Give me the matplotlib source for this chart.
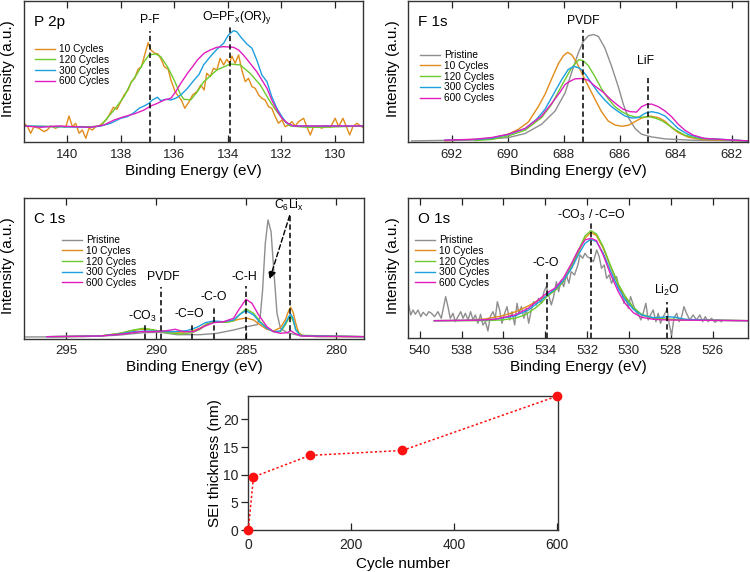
import matplotlib.pyplot as plt
import numpy as np

plt.rcParams['font.family'] = ['Liberation Sans', 'DejaVu Sans']
plt.rcParams['mathtext.fontset'] = 'custom'
plt.rcParams['mathtext.rm'] = 'Liberation Sans'
plt.rcParams['mathtext.it'] = 'Liberation Sans'

# colours of the series
c_pri = '#8E8E8E'
c_10 = '#E08C1A'
c_120 = '#6CCB2C'
c_300 = '#1E9FE0'
c_600 = '#E01EC0'

series_names = ['Pristine', '10 Cycles', '120 Cycles', '300 Cycles', '600 Cycles']

# ---------------- P 2p (binding energy eV, intensity a.u.) ----------------
p2p_10 = [(141.62, 19.2), (141.50, 16.5), (141.37, 9.2), (141.25, 15.8), (141.06, 14.2), (140.87, 10.8),
          (140.75, 12.5), (140.62, 16.5), (140.44, 14.2), (140.25, 16.5), (140.06, 15.2), (139.94, 26.5),
          (139.81, 15.8), (139.69, 19.2), (139.56, 9.2), (139.44, 12.5), (139.31, 4.2), (139.19, 14.2),
          (139.06, 12.5), (138.94, 15.8), (138.82, 16.5), (138.69, 19.2), (138.53, 23.2), (138.40, 29.2),
          (138.28, 35.2), (138.15, 33.2), (138.00, 40.8), (137.88, 47.5), (137.73, 52.5), (137.61, 60.8),
          (137.48, 64.2), (137.36, 73.2), (137.23, 75.8), (137.11, 87.5), (136.98, 99.8), (136.88, 92.5),
          (136.73, 89.2), (136.61, 88.5), (136.48, 82.5), (136.38, 75.8), (136.23, 73.2), (136.13, 62.5),
          (135.97, 50.8), (135.86, 46.5), (135.74, 42.5), (135.61, 34.2), (135.45, 40.8), (135.32, 47.5),
          (135.16, 50.8), (135.01, 57.5), (134.89, 52.5), (134.79, 69.2), (134.66, 65.8), (134.54, 74.2),
          (134.41, 72.5), (134.29, 84.2), (134.16, 77.5), (134.04, 83.2), (133.94, 79.2), (133.85, 86.5),
          (133.73, 79.2), (133.60, 87.5), (133.48, 72.5), (133.35, 60.8), (133.23, 64.2), (133.10, 55.8),
          (132.98, 54.2), (132.85, 47.5), (132.73, 44.2), (132.61, 42.5), (132.48, 35.8), (132.36, 34.2),
          (132.23, 25.8), (132.11, 19.2), (131.98, 22.5), (131.86, 15.8), (131.73, 17.5), (131.61, 20.8),
          (131.48, 16.5), (131.36, 20.8), (131.17, 24.2), (131.05, 15.8), (130.92, 7.5), (130.80, 15.8),
          (130.61, 15.8), (130.49, 14.2), (130.36, 16.5), (130.17, 15.2), (129.99, 24.2), (129.86, 15.8),
          (129.70, 24.2), (129.57, 15.8), (129.45, 7.5), (129.33, 15.8), (129.18, 19.2), (129.03, 16.5),
          (128.87, 13.2)]
p2p_120 = [(141.62, 16.5), (140.37, 15.8), (139.13, 15.8), (138.75, 16.5), (138.57, 22.5), (138.25, 32.5),
           (137.88, 45.8), (137.63, 59.2), (137.38, 69.2), (137.13, 80.8), (136.95, 87.5), (136.70, 88.5),
           (136.51, 85.8), (136.26, 75.8), (136.01, 62.5), (135.76, 47.5), (135.64, 43.2), (135.39, 42.5),
           (135.14, 50.8), (134.91, 60.5), (134.41, 72.5), (133.91, 78.5), (133.54, 77.5), (133.17, 69.2),
           (132.79, 57.5), (132.42, 40.8), (132.17, 30.8), (131.92, 22.5), (131.67, 16.5), (131.05, 15.2),
           (130.42, 15.2), (129.80, 15.8), (128.87, 16.5)]
p2p_300 = [(141.62, 16.5), (140.37, 15.8), (139.13, 15.2), (138.75, 16.5), (138.38, 19.2), (138.00, 24.2),
           (137.76, 25.8), (137.51, 29.8), (137.32, 34.2), (137.13, 36.5), (136.95, 39.2), (136.82, 42.5),
           (136.63, 45.2), (136.51, 41.8), (136.32, 43.2), (136.13, 42.5), (135.95, 44.2), (135.76, 47.5),
           (135.51, 54.2), (135.26, 62.5), (135.08, 68.0), (134.91, 77.5), (134.66, 85.8), (134.41, 93.2),
           (134.16, 99.2), (133.98, 107.5), (133.79, 111.8), (133.67, 110.8), (133.48, 104.2), (133.29, 98.5),
           (133.10, 94.2), (132.92, 82.5), (132.73, 67.5), (132.54, 60.8), (132.36, 45.8), (132.17, 34.2),
           (131.98, 25.8), (131.80, 19.2), (131.55, 16.5), (130.42, 16.5), (128.87, 16.5)]
p2p_600 = [(141.62, 16.5), (141.00, 15.2), (140.37, 16.5), (139.75, 15.8), (139.13, 15.2), (138.63, 17.5),
           (138.25, 22.5), (137.88, 25.8), (137.51, 28.5), (137.13, 32.5), (136.88, 36.5), (136.63, 39.2),
           (136.38, 42.5), (136.13, 44.2), (135.95, 50.8), (135.76, 59.2), (135.51, 69.2), (135.32, 75.8),
           (135.14, 82.5), (134.89, 89.2), (134.66, 92.5), (134.41, 95.2), (134.16, 95.8), (133.79, 95.2),
           (133.60, 92.5), (133.42, 87.5), (133.17, 79.2), (132.92, 70.8), (132.73, 62.5), (132.54, 54.2),
           (132.36, 42.5), (132.17, 32.5), (131.98, 24.2), (131.80, 19.8), (131.55, 16.5), (130.42, 16.5),
           (128.87, 16.5)]
p2p_mark_pos = [136.9, 133.92]
p2p_mark_top = [111.8, 117.5]
p2p_mark_text = ['P-F', r'O=PF$_\mathrm{x}$(OR)$_\mathrm{y}$']
p2p_text_x = [136.93, 133.65]
p2p_text_y = [122.5, 124.5]

# ---------------- F 1s ----------------
f1s_pri = [(693.43, 1.6), (691.17, 2.6), (689.98, 4.9), (689.38, 9.0), (688.79, 18.3), (688.31, 31.6),
           (687.95, 50.0), (687.72, 70.0), (687.48, 90.0), (687.30, 101.6), (687.12, 107.3), (686.94, 108.6),
           (686.76, 106.6), (686.53, 95.0), (686.29, 76.6), (686.05, 56.0), (685.87, 38.3), (685.69, 25.0),
           (685.45, 14.0), (685.22, 8.3), (684.86, 5.6), (684.38, 3.6), (683.43, 2.3), (681.43, 1.6)]
f1s_10 = [(692.24, 1.6), (691.17, 3.0), (690.57, 4.3), (689.98, 8.3), (689.62, 13.3), (689.26, 20.6),
          (688.91, 36.0), (688.67, 48.3), (688.43, 64.0), (688.19, 79.3), (688.01, 87.3), (687.86, 90.6),
          (687.72, 88.3), (687.54, 80.6), (687.36, 70.0), (687.12, 56.6), (686.88, 43.3), (686.65, 31.0),
          (686.41, 21.6), (686.17, 17.6), (685.93, 16.3), (685.69, 17.3), (685.45, 21.0), (685.22, 24.6),
          (684.92, 26.6), (684.62, 25.0), (684.38, 21.3), (684.15, 15.0), (683.91, 10.0), (683.55, 5.3),
          (683.07, 3.0), (681.43, 1.6)]
f1s_120 = [(691.17, 2.0), (690.57, 3.0), (689.98, 6.6), (689.38, 12.3), (688.79, 25.0), (688.43, 38.3),
           (688.07, 57.3), (687.72, 75.0), (687.46, 83.3), (687.30, 82.3), (687.12, 77.3), (686.88, 66.0),
           (686.65, 54.0), (686.41, 44.0), (686.17, 36.0), (685.93, 31.0), (685.69, 27.6), (685.45, 25.6),
           (685.22, 25.3), (684.98, 26.0), (684.74, 24.6), (684.50, 22.0), (684.26, 17.6), (684.03, 13.0),
           (683.67, 7.3), (683.19, 4.0), (681.43, 1.6)]
f1s_300 = [(692.24, 2.3), (691.17, 3.0), (690.57, 4.3), (689.98, 8.0), (689.38, 14.0), (688.97, 23.3),
           (688.67, 33.3), (688.37, 48.3), (688.07, 63.3), (687.84, 73.3), (687.63, 76.6), (687.42, 74.6),
           (687.24, 69.3), (687.00, 59.3), (686.76, 50.0), (686.53, 42.6), (686.29, 36.0), (686.05, 31.0),
           (685.81, 26.6), (685.57, 24.6), (685.34, 25.0), (685.10, 29.3), (684.86, 31.0), (684.62, 29.6),
           (684.38, 26.6), (684.15, 20.6), (683.91, 14.0), (683.55, 8.0), (683.07, 4.3), (681.43, 1.6)]
f1s_600 = [(692.24, 2.3), (691.17, 3.3), (690.57, 5.0), (689.98, 8.3), (689.38, 14.0), (688.79, 26.6),
           (688.43, 39.3), (688.13, 50.6), (687.95, 58.3), (687.84, 60.6), (687.60, 64.0), (687.36, 64.3),
           (687.12, 62.6), (686.88, 56.6), (686.59, 50.6), (686.35, 44.0), (686.11, 38.3), (685.87, 33.3),
           (685.63, 31.0), (685.40, 30.6), (685.22, 36.0), (685.04, 38.3), (684.86, 38.6), (684.62, 36.0),
           (684.38, 31.6), (684.15, 26.0), (683.91, 18.3), (683.67, 12.3), (683.37, 7.3), (682.96, 4.0),
           (681.43, 1.6)]
f1s_mark_pos = [687.31, 685.0]
f1s_mark_top = [113.3, 65.0]
f1s_mark_text = ['PVDF', 'LiF']
f1s_text_x = [687.3, 685.07]
f1s_text_y = [122.6, 81.6]

# ---------------- C 1s ----------------
c1s_pri = [(297.26, 1.7), (294.02, 2.0), (292.17, 3.4), (290.69, 6.0), (289.76, 6.4), (288.84, 4.0),
           (287.54, 4.0), (286.61, 5.4), (285.69, 8.7), (284.95, 12.0), (284.39, 14.0), (284.21, 22.0),
           (284.08, 48.7), (283.93, 95.4), (283.78, 118.7), (283.61, 107.0), (283.46, 68.7), (283.28, 25.4),
           (283.09, 10.4), (282.72, 6.0), (282.17, 3.7), (281.06, 2.0), (278.41, 2.0)]
c1s_10 = [(295.87, 2.0), (293.09, 2.7), (291.98, 5.4), (291.43, 7.7), (290.87, 9.4), (290.41, 9.4),
          (289.95, 8.0), (289.39, 7.0), (288.65, 6.4), (288.00, 7.4), (287.54, 10.7), (287.17, 14.7),
          (286.71, 16.7), (286.24, 16.4), (285.78, 17.4), (285.41, 19.4), (285.00, 20.7), (284.58, 18.7),
          (284.21, 13.7), (283.84, 9.4), (283.47, 7.7), (283.09, 11.0), (282.82, 18.7), (282.63, 28.0),
          (282.52, 31.4), (282.39, 26.7), (282.24, 15.4), (282.08, 6.0), (281.80, 2.4), (278.41, 2.0)]
c1s_120 = [(295.87, 2.0), (293.09, 2.7), (291.98, 5.4), (291.24, 8.7), (290.69, 10.4), (290.13, 8.7),
           (289.39, 6.0), (288.65, 4.7), (288.00, 6.0), (287.54, 9.4), (287.17, 14.7), (286.61, 17.0),
           (286.06, 16.4), (285.69, 18.0), (285.32, 24.7), (285.00, 29.7), (284.58, 25.4), (284.21, 17.0),
           (283.84, 11.0), (283.47, 7.0), (283.09, 7.0), (282.82, 13.7), (282.63, 20.4), (282.52, 22.7),
           (282.39, 18.0), (282.24, 9.4), (281.98, 3.4), (278.41, 2.0)]
c1s_300 = [(296.06, 2.0), (293.09, 2.7), (291.98, 4.7), (291.24, 7.0), (290.50, 7.7), (289.76, 7.4),
           (289.02, 7.0), (288.28, 8.0), (287.72, 11.4), (287.26, 16.0), (286.80, 17.7), (286.24, 17.0),
           (285.69, 18.7), (285.32, 24.7), (285.00, 28.0), (284.58, 23.7), (284.21, 16.0), (283.84, 10.4),
           (283.47, 7.0), (283.09, 7.7), (282.82, 15.4), (282.63, 22.0), (282.52, 24.7), (282.39, 20.4),
           (282.24, 8.7), (281.98, 3.0), (278.41, 2.0)]
c1s_600 = [(296.06, 2.0), (293.09, 2.7), (291.80, 4.7), (290.87, 7.0), (290.13, 7.0), (289.39, 8.0),
           (288.93, 9.4), (288.46, 7.0), (287.91, 7.0), (287.35, 12.0), (286.80, 16.0), (286.24, 17.0),
           (285.69, 20.4), (285.41, 28.7), (285.00, 39.4), (284.67, 35.4), (284.30, 23.7), (283.84, 12.0),
           (283.47, 7.0), (283.09, 5.4), (282.72, 6.0), (282.52, 8.0), (282.35, 6.0), (281.98, 2.7),
           (278.41, 2.0)]
c1s_mark_pos = [290.63, 289.72, 288.0, 286.8, 285.0, 282.54]
c1s_mark_top = [15.4, 52.0, 15.4, 32.0, 52.7, 124.0]
c1s_mark_text = [r'-CO$_\mathrm{3}$', 'PVDF', '-C=O', '-C-O', '-C-H', r'C$_\mathrm{6}$Li$_\mathrm{x}$']
c1s_text_x = [290.78, 289.58, 288.13, 286.8, 285.08, 282.63]
c1s_text_y = [22.7, 61.4, 24.7, 42.0, 61.4, 133.0]
c1s_arrow = [(282.58, 123.0), (283.69, 59.4)]

# ---------------- O 1s ----------------
o1s_pri = [(540.56, 36.6), (540.43, 23.3), (540.32, 28.3), (540.21, 24.0), (540.08, 28.3), (539.95, 21.6),
           (539.84, 26.0), (539.68, 22.6), (539.57, 26.6), (539.44, 25.0), (539.29, 21.6), (539.13, 26.6),
           (538.97, 20.0), (538.84, 33.3), (538.76, 41.6), (538.65, 31.6), (538.54, 20.0), (538.41, 25.0),
           (538.30, 16.6), (538.17, 21.6), (538.04, 26.6), (537.93, 20.0), (537.82, 25.0), (537.69, 18.3),
           (537.57, 26.6), (537.45, 18.3), (537.34, 23.3), (537.22, 15.0), (537.09, 24.0), (536.98, 13.3),
           (536.86, 16.6), (536.74, 7.3), (536.63, 21.6), (536.50, 26.6), (536.39, 20.0), (536.29, 36.6),
           (536.18, 28.3), (536.07, 15.0), (535.94, 25.0), (535.83, 31.6), (535.70, 18.3), (535.59, 26.6),
           (535.46, 13.3), (535.35, 35.0), (535.26, 25.0), (535.14, 31.6), (535.02, 20.0), (534.91, 30.0),
           (534.79, 15.0), (534.67, 28.3), (534.56, 36.6), (534.43, 33.3), (534.32, 40.0), (534.19, 35.0),
           (534.06, 46.6), (533.95, 51.6), (533.84, 43.3), (533.71, 33.3), (533.60, 41.6), (533.47, 56.6),
           (533.36, 46.6), (533.23, 58.3), (533.12, 51.6), (532.99, 63.3), (532.87, 55.0), (532.76, 66.6),
           (532.60, 63.3), (532.44, 73.3), (532.34, 83.3), (532.21, 80.0), (532.10, 85.0), (531.99, 81.6),
           (531.86, 80.0), (531.70, 76.6), (531.54, 88.3), (531.42, 81.6), (531.31, 70.0), (531.18, 73.3),
           (531.07, 60.0), (530.94, 63.3), (530.83, 55.0), (530.72, 60.0), (530.59, 61.6), (530.46, 48.3),
           (530.35, 46.6), (530.24, 35.0), (530.14, 40.0), (530.03, 30.0), (529.92, 41.6), (529.79, 33.3),
           (529.67, 26.6), (529.54, 23.3), (529.43, 18.3), (529.32, 25.0), (529.19, 35.0), (529.08, 18.3),
           (528.97, 23.3), (528.84, 28.3), (528.71, 16.6), (528.60, 25.0), (528.49, 15.0), (528.36, 21.6),
           (528.23, 26.6), (528.17, 29.3), (528.07, 13.3), (527.96, 3.3), (527.85, 20.0), (527.72, 25.0),
           (527.60, 16.6), (527.48, 21.6), (527.37, 31.6), (527.25, 25.0), (527.09, 18.3), (526.93, 23.3),
           (526.77, 18.3), (526.61, 23.3), (526.48, 16.6), (526.35, 21.6), (526.21, 16.6), (526.05, 20.0),
           (525.89, 16.0), (525.73, 18.3), (525.57, 16.6)]
o1s_10 = [(539.30, 17.6), (537.68, 18.0), (536.88, 19.3), (536.08, 22.3), (535.45, 26.3), (534.81, 32.3),
          (534.17, 40.0), (533.90, 42.3), (533.54, 48.3), (533.14, 56.6), (532.74, 71.0), (532.42, 85.6),
          (532.10, 100.0), (531.82, 106.0), (531.55, 102.6), (531.23, 90.0), (530.91, 73.3), (530.51, 53.3),
          (530.19, 41.6), (529.79, 30.0), (529.40, 23.3), (528.84, 20.0), (528.28, 19.0), (527.48, 18.3),
          (526.21, 18.0), (524.33, 17.6)]
o1s_120 = [(539.30, 17.6), (536.88, 17.6), (536.08, 18.3), (535.45, 20.0), (534.97, 23.3), (534.49, 30.0),
           (534.17, 35.6), (533.90, 42.3), (533.54, 47.6), (533.14, 56.6), (532.74, 73.3), (532.42, 87.6),
           (532.10, 102.3), (531.82, 107.6), (531.55, 104.3), (531.23, 91.6), (530.91, 74.3), (530.51, 54.3),
           (530.19, 42.3), (529.79, 31.0), (529.40, 24.0), (528.84, 20.3), (528.12, 19.0), (524.33, 17.6)]
o1s_300 = [(539.30, 17.6), (537.36, 18.0), (536.40, 19.0), (535.45, 22.3), (534.81, 28.3), (534.17, 38.3),
           (533.90, 43.3), (533.54, 49.0), (533.14, 57.6), (532.74, 70.0), (532.42, 83.3), (532.10, 95.0),
           (531.82, 99.0), (531.55, 96.6), (531.23, 85.0), (530.91, 69.0), (530.51, 50.0), (530.19, 39.0),
           (529.79, 29.0), (529.40, 23.3), (528.84, 20.6), (528.44, 21.0), (528.12, 21.6), (527.80, 21.0),
           (527.32, 19.0), (526.21, 18.0), (524.33, 17.6)]
o1s_600 = [(539.30, 17.6), (537.36, 18.0), (536.40, 19.0), (535.45, 23.3), (534.81, 30.0), (534.17, 41.0),
           (533.90, 45.6), (533.54, 50.0), (533.14, 60.0), (532.74, 75.0), (532.42, 88.3), (532.10, 98.3),
           (531.82, 100.0), (531.55, 97.6), (531.23, 83.3), (530.91, 65.6), (530.51, 46.6), (530.19, 35.0),
           (529.79, 25.6), (529.40, 21.0), (528.84, 19.0), (528.12, 18.3), (524.33, 17.6)]
o1s_mark_pos = [533.9, 531.82, 528.2]
o1s_mark_top = [66.6, 116.6, 36.6]
o1s_mark_text = ['-C-O', r'-CO$_\mathrm{3}$ / -C=O', r'Li$_\mathrm{2}$O']
o1s_text_x = [533.97, 531.78, 528.2]
o1s_text_y = [75.0, 123.3, 48.3]

# ---------------- SEI thickness ----------------
cycles = [0, 10, 120, 300, 600]
sei_nm = [0, 9.6, 13.5, 14.4, 24.2]


def spectrum_axes(rect, xlim, ylim, xticks, tag):
    ax = fig.add_axes(rect)
    ax.set_xlim(*xlim)
    ax.set_ylim(*ylim)
    ax.set_xticks(xticks)
    ax.set_yticks([])
    ax.tick_params(axis='x', direction='in', top=True, length=5, width=0.9,
                   pad=4.5, labelsize=9.5, colors='#222222')
    for s in ax.spines.values():
        s.set_linewidth(1.0)
        s.set_color('#333333')
    ax.set_xlabel('Binding Energy (eV)', fontsize=11, labelpad=2.5)
    ax.set_ylabel('Intensity (a.u.)', fontsize=11)
    ax.yaxis.set_label_coords(-0.026, 0.52)
    ax.text(0.03, 0.85, tag, transform=ax.transAxes, fontsize=11, va='center')
    return ax


def draw_curve(ax, pts, color, label):
    a = np.array(pts)
    ax.plot(a[:, 0], a[:, 1], color=color, lw=1.0, label=label)


def draw_marks(ax, pos, tops, texts, tx, ty):
    for p, t in zip(pos, tops):
        ax.plot([p, p], [0, t], color='k', lw=1.1, ls=(0, (3.5, 2)))
    for s, x, y in zip(texts, tx, ty):
        ax.text(x, y, s, ha='center', va='center', fontsize=8.8)


def add_legend(ax, x, y):
    ax.legend(frameon=False, loc='upper left', bbox_to_anchor=(x, y), borderpad=0,
              borderaxespad=0, fontsize=7.3, handlelength=2.0, handletextpad=0.35,
              labelspacing=0.07)


fig = plt.figure(figsize=(7.5, 5.72), dpi=100)

# P 2p
ax1 = spectrum_axes([0.032, 0.7509, 0.452, 0.2474], (141.62, 128.95), (0, 141.5),
                    [140, 138, 136, 134, 132, 130], 'P 2p')
draw_curve(ax1, p2p_10, c_10, series_names[1])
draw_curve(ax1, p2p_120, c_120, series_names[2])
draw_curve(ax1, p2p_300, c_300, series_names[3])
draw_curve(ax1, p2p_600, c_600, series_names[4])
draw_marks(ax1, p2p_mark_pos, p2p_mark_top, p2p_mark_text, p2p_text_x, p2p_text_y)
add_legend(ax1, 0.032, 0.694)

# F 1s
ax2 = spectrum_axes([0.544, 0.7509, 0.4533, 0.2474], (693.56, 681.42), (0, 142.3),
                    [692, 690, 688, 686, 684, 682], 'F 1s')
draw_curve(ax2, f1s_pri, c_pri, series_names[0])
draw_curve(ax2, f1s_10, c_10, series_names[1])
draw_curve(ax2, f1s_120, c_120, series_names[2])
draw_curve(ax2, f1s_300, c_300, series_names[3])
draw_curve(ax2, f1s_600, c_600, series_names[4])
draw_marks(ax2, f1s_mark_pos, f1s_mark_top, f1s_mark_text, f1s_text_x, f1s_text_y)
ax2.yaxis.set_label_coords(-0.024, 0.52)
add_legend(ax2, 0.035, 0.652)

# C 1s
ax3 = spectrum_axes([0.032, 0.4079, 0.4533, 0.2455], (297.33, 278.45), (0, 140.4),
                    [295, 290, 285, 280], 'C 1s')
draw_curve(ax3, c1s_pri, c_pri, series_names[0])
draw_curve(ax3, c1s_10, c_10, series_names[1])
draw_curve(ax3, c1s_120, c_120, series_names[2])
draw_curve(ax3, c1s_300, c_300, series_names[3])
draw_curve(ax3, c1s_600, c_600, series_names[4])
draw_marks(ax3, c1s_mark_pos, c1s_mark_top, c1s_mark_text, c1s_text_x, c1s_text_y)
ax3.annotate('', xy=c1s_arrow[1], xytext=c1s_arrow[0],
             arrowprops=dict(arrowstyle='-|>', color='k', lw=1.0, ls=(0, (3.5, 2)),
                             mutation_scale=11, shrinkA=0, shrinkB=0))
add_legend(ax3, 0.112, 0.737)

# O 1s
ax4 = spectrum_axes([0.544, 0.4086, 0.4533, 0.2448], (540.56, 524.31), (0, 140),
                    [540, 538, 536, 534, 532, 530, 528, 526], 'O 1s')
draw_curve(ax4, o1s_pri, c_pri, series_names[0])
draw_curve(ax4, o1s_10, c_10, series_names[1])
draw_curve(ax4, o1s_120, c_120, series_names[2])
draw_curve(ax4, o1s_300, c_300, series_names[3])
draw_curve(ax4, o1s_600, c_600, series_names[4])
draw_marks(ax4, o1s_mark_pos, o1s_mark_top, o1s_mark_text, o1s_text_x, o1s_text_y)
ax4.yaxis.set_label_coords(-0.024, 0.52)
add_legend(ax4, 0.021, 0.737)

# SEI thickness vs cycle number
ax5 = fig.add_axes([0.3311, 0.0734, 0.4125, 0.2348])
ax5.plot(cycles, sei_nm, ls=(0, (1.5, 1.5)), color='#FF1010', lw=1.1, marker='o', ms=6,
         clip_on=False, zorder=3)
ax5.set_xlim(0, 602)
ax5.set_ylim(0, 24.3)
ax5.set_xticks([0, 200, 400, 600])
ax5.set_yticks([0, 5, 10, 15, 20])
ax5.tick_params(axis='x', direction='in', length=5, width=0.9, pad=6, labelsize=10, colors='#222222')
ax5.tick_params(axis='y', direction='out', length=5, width=0.9, pad=2, labelsize=10, colors='#222222')
for s in ax5.spines.values():
    s.set_linewidth(1.0)
    s.set_color('#333333')
ax5.set_xlabel('Cycle number', fontsize=11, labelpad=3)
ax5.set_ylabel('SEI thickness (nm)', fontsize=11, labelpad=1)

fig.savefig('out.png', dpi=100)
